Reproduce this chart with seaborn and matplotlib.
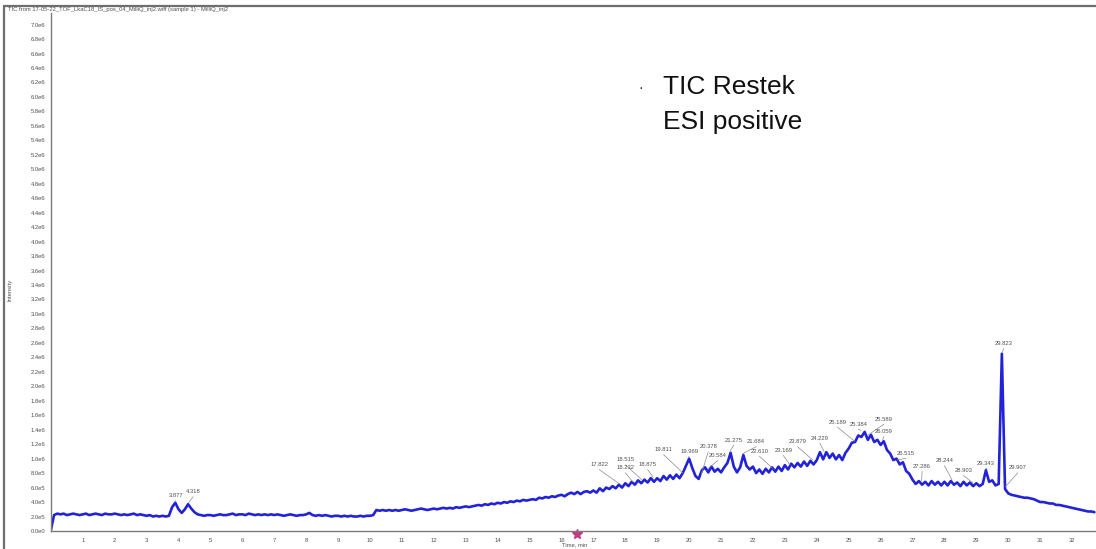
import numpy as np
import pandas as pd
import matplotlib
matplotlib.use("Agg")
import matplotlib.pyplot as plt
from matplotlib.lines import Line2D
from matplotlib.ticker import FixedLocator, MultipleLocator, FuncFormatter
import seaborn as sns

# Total ion chromatogram, sampled every 0.1 min from 0.0 min (intensity in units of 1e5 cps)
scan_start = 0.0
scan_step = 0.1
tic_e5 = [
    0.1, 2.2, 2.4, 2.3, 2.4, 2.2, 2.3, 2.4, 2.3, 2.2,      # 0
    2.3, 2.4, 2.2, 2.3, 2.4, 2.3, 2.2, 2.4, 2.3, 2.3,      # 1
    2.4, 2.3, 2.2, 2.3, 2.2, 2.3, 2.4, 2.2, 2.3, 2.2,      # 2
    2.1, 2.2, 2.0, 2.1, 2.0, 2.1, 2.0, 2.1, 3.3, 3.9,      # 3
    3.0, 2.5, 3.0, 3.7, 3.1, 2.6, 2.3, 2.2, 2.1, 2.2,      # 4
    2.2, 2.1, 2.2, 2.3, 2.2, 2.2, 2.3, 2.4, 2.2, 2.3,      # 5
    2.3, 2.2, 2.4, 2.3, 2.2, 2.3, 2.2, 2.3, 2.2, 2.3,      # 6
    2.2, 2.3, 2.2, 2.1, 2.2, 2.3, 2.2, 2.1, 2.2, 2.2,      # 7
    2.3, 2.5, 2.2, 2.1, 2.2, 2.1, 2.2, 2.1, 2.0, 2.1,      # 8
    2.1, 2.0, 2.1, 2.0, 2.1, 2.0, 2.0, 2.1, 2.0, 2.1,      # 9
    2.1, 2.2, 2.9, 2.8, 2.9, 2.8, 2.9, 2.8, 2.9, 2.8,      # 10
    2.9, 3.0, 2.9, 2.8, 2.9, 3.0, 3.1, 3.0, 2.9, 3.0,      # 11
    3.1, 3.0, 3.1, 3.2, 3.1, 3.2, 3.1, 3.3, 3.2, 3.3,      # 12
    3.4, 3.3, 3.4, 3.5, 3.6, 3.5, 3.7, 3.6, 3.8, 3.7,      # 13
    3.9, 3.8, 4.0, 3.9, 4.1, 4.0, 4.2, 4.1, 4.3, 4.2,      # 14
    4.3, 4.4, 4.3, 4.6, 4.5, 4.7, 4.6, 4.8, 4.7, 4.9,      # 15
    5.0, 4.8, 5.1, 5.3, 5.1, 5.4, 5.1, 5.4, 5.5, 5.3,      # 16
    5.6, 5.3, 5.9, 5.5, 6.0, 5.8, 6.2, 5.9, 6.4, 6.0,      # 17
    6.6, 6.2, 6.8, 6.4, 7.0, 6.6, 7.1, 6.7, 7.3, 6.8,      # 18
    7.3, 6.9, 7.6, 7.1, 7.7, 7.2, 7.8, 7.3, 8.0, 9.0,      # 19
    10.0, 8.7, 7.6, 7.2, 8.4, 8.8, 8.1, 8.9, 8.2, 8.6,     # 20
    8.1, 8.8, 9.4, 10.8, 8.9, 8.1, 8.8, 10.5, 9.0, 8.5,    # 21
    8.9, 8.0, 8.5, 7.9, 8.6, 8.1, 8.8, 8.2, 8.9, 8.3,      # 22
    9.1, 8.5, 9.3, 8.8, 9.4, 8.9, 9.6, 9.0, 9.7, 9.2,      # 23
    9.8, 10.9, 9.9, 10.9, 10.1, 10.7, 9.9, 10.5, 9.8, 10.8,  # 24
    11.4, 12.2, 12.3, 13.2, 13.0, 13.7, 12.6, 13.3, 12.3, 12.6,  # 25
    11.9, 12.4, 11.2, 10.7, 9.8, 10.0, 9.2, 9.5, 8.3, 7.9,  # 26
    7.1, 6.5, 6.9, 6.4, 6.8, 6.3, 6.9, 6.4, 6.8, 6.3,      # 27
    6.8, 6.3, 6.9, 6.4, 6.7, 6.2, 6.8, 6.3, 6.7, 6.2,      # 28
    6.6, 6.2, 6.5, 8.4, 6.8, 7.0, 6.3, 6.5, 24.5, 5.8,     # 29
    5.2, 5.0, 4.9, 4.8, 4.7, 4.6, 4.6, 4.5, 4.4, 4.2,      # 30
    4.0, 4.0, 3.9, 3.8, 3.8, 3.6, 3.6, 3.5, 3.4, 3.3,      # 31
    3.2, 3.1, 3.0, 2.9, 2.8, 2.7, 2.7, 2.6,                # 32
]

# Peak retention times (min) and the peak height they point to (1e5 cps)
peak_rt = [3.877, 4.318, 17.822, 18.232, 18.515, 18.875, 19.811, 19.969,
           20.378, 20.584, 21.275, 21.684, 22.610, 23.169, 23.879, 24.229,
           25.189, 25.384, 25.589, 26.059, 26.515, 27.286, 28.244, 28.903,
           29.343, 29.823, 29.907]
peak_height_e5 = [3.9, 3.7, 6.3, 6.6, 6.9, 7.2, 7.8, 10.0,
                  7.6, 8.4, 10.8, 10.5, 8.5, 8.9, 9.6, 10.8,
                  12.2, 13.7, 13.0, 12.3, 9.6, 6.7, 6.8, 6.4,
                  8.4, 24.5, 5.9]
peak_labels = ["3.877", "4.318", "17.822", "18.232", "18.515", "18.875", "19.811", "19.969",
               "20.378", "20.584", "21.275", "21.684", "22.610", "23.169", "23.879", "24.229",
               "25.189", "25.384", "25.589", "26.059", "26.515", "27.286", "28.244", "28.903",
               "29.343", "29.823", "29.907"]

# Where each peak label is written (min, 1e5 cps)
label_x = [3.92, 4.46, 17.18, 18.0, 18.0, 18.7, 19.2, 20.0,
           20.6, 20.9, 21.4, 22.1, 22.2, 22.95, 23.4, 24.1,
           24.65, 25.3, 26.1, 26.1, 26.8, 27.3, 28.0, 28.6,
           29.3, 29.85, 30.3]
label_y = [4.55, 5.1, 8.85, 8.4, 9.5, 8.85, 10.9, 10.65,
           11.3, 10.1, 12.2, 12.0, 10.7, 10.8, 12.0, 12.45,
           14.7, 14.4, 15.1, 13.4, 10.4, 8.6, 9.4, 8.0,
           9.0, 25.6, 8.4]

x_ticks = list(range(1, 33))
y_ticks_e5 = list(range(0, 72, 2))

trace_color = "#2222d8"
axis_color = "#7a7a7a"
label_color = "#505050"

sns.set_style("white")
plt.rcParams["font.family"] = ["Liberation Sans", "DejaVu Sans"]

times = scan_start + scan_step * np.arange(len(tic_e5))
df = pd.DataFrame({"Time, min": times, "Intensity": np.array(tic_e5) * 1e5})

fig = plt.figure(figsize=(10.96, 5.49), dpi=100)
ax = fig.add_axes([0.0464, 0.0328, 0.9536, 0.9435])

sns.lineplot(data=df, x="Time, min", y="Intensity", ax=ax, color=trace_color,
             linewidth=1.9, estimator=None, sort=False)

ax.set_xlim(0, 32.75)
ax.set_ylim(0, 7.16e6)
ax.set_xlabel("")
ax.set_ylabel("")

for side in ("top", "right"):
    ax.spines[side].set_visible(False)
for side in ("left", "bottom"):
    ax.spines[side].set_color(axis_color)
    ax.spines[side].set_linewidth(1.0)

ax.xaxis.set_major_locator(FixedLocator(x_ticks))
ax.xaxis.set_minor_locator(MultipleLocator(0.2))
ax.yaxis.set_major_locator(FixedLocator([v * 1e5 for v in y_ticks_e5]))


def sci_label(v, _pos):
    if v == 0:
        return "0.0e0"
    exp = int(np.floor(np.log10(v) + 1e-9))
    return f"{v / 10 ** exp:.1f}e{exp}"


ax.yaxis.set_major_formatter(FuncFormatter(sci_label))
ax.tick_params(axis="both", which="major", labelsize=4.2, colors=axis_color,
               labelcolor=label_color, length=3, width=0.8, pad=2)
ax.tick_params(axis="x", which="minor", length=1.5, width=0.6, colors=axis_color)
ax.tick_params(axis="x", which="major", direction="out")
ax.tick_params(axis="y", which="major", direction="inout", length=4)

# Peak annotations with leader lines
for rt, h, txt, lx, ly in zip(peak_rt, peak_height_e5, peak_labels, label_x, label_y):
    ax.plot([lx, rt], [ly * 1e5 - 0.35e5, h * 1e5 + 0.2e5], color="#8a8a8a", linewidth=0.5)
    ax.text(lx, ly * 1e5, txt, fontsize=4.2, color=label_color, ha="center", va="bottom")

# Cursor marker on the time axis
ax.plot([16.5], [-0.4e5], marker="*", markersize=7, color="#c03a86", clip_on=False,
        linestyle="none")

# Chart notes
fig.text(641 / 1096, 1 - 88 / 549, "\u00b7", fontsize=10, color="#202020",
         ha="center", va="center")
fig.text(663 / 1096, 1 - 87 / 549, "TIC Restek", fontsize=19, color="#111111",
         ha="left", va="center")
fig.text(663 / 1096, 1 - 122 / 549, "ESI positive", fontsize=19, color="#111111",
         ha="left", va="center")

fig.text(8 / 1096, 1 - 10 / 549,
         "TIC from 17-05-22_TOF_LkaC18_IS_pos_04_MilliQ_inj2.wiff (sample 1) - MilliQ_inj2",
         fontsize=4.2, color=label_color, ha="left", va="center")
fig.text(10 / 1096, 1 - 290 / 549, "Intensity", fontsize=4.2, color=label_color,
         rotation=90, ha="center", va="center")
fig.text(575 / 1096, 1 - 545 / 549, "Time, min", fontsize=4.2, color=label_color,
         ha="center", va="center")

# Window frame lines along the top and left edges
fig.add_artist(Line2D([4 / 1096, 1.0], [1 - 6 / 549, 1 - 6 / 549], transform=fig.transFigure,
                      color="#6e6e6e", linewidth=1.6))
fig.add_artist(Line2D([4 / 1096, 4 / 1096], [0.0, 1 - 6 / 549], transform=fig.transFigure,
                      color="#6e6e6e", linewidth=1.6))

fig.savefig("out.png", dpi=100, facecolor="white")
